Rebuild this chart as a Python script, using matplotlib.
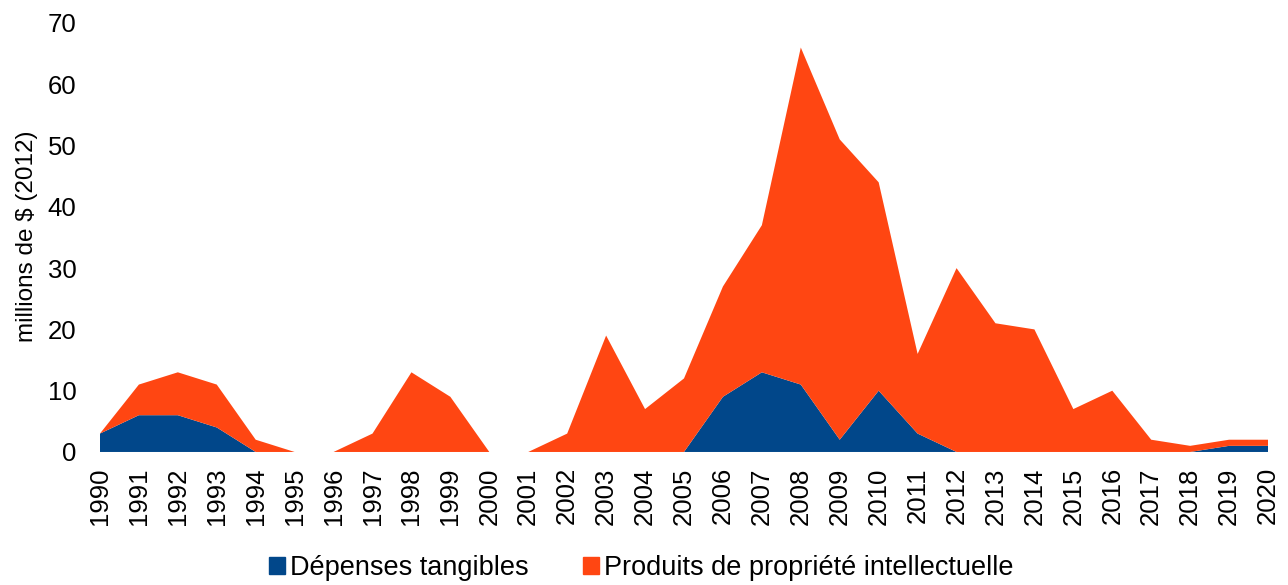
import matplotlib.pyplot as plt
from matplotlib.patches import Patch

plt.rcParams['font.family'] = ['Liberation Sans', 'DejaVu Sans']

years = list(range(1990, 2021))
tangibles = [3, 6, 6, 4, 0, 0, 0, 0, 0, 0, 0,
             0, 0, 0, 0, 0, 9, 13, 11, 2, 10,
             3, 0, 0, 0, 0, 0, 0, 0, 1, 1]
propriete = [0, 5, 7, 7, 2, 0, 0, 3, 13, 9, 0,
             0, 3, 19, 7, 12, 18, 24, 55, 49, 34,
             13, 30, 21, 20, 7, 10, 2, 1, 1, 1]
series_labels = ['Dépenses tangibles', 'Produits de propriété intellectuelle']
colors = ['#01478A', '#FF4612']

fig = plt.figure(figsize=(12.88, 5.85), dpi=100)
ax = fig.add_axes([0.0776, 0.2274, 0.9069, 0.7333])

ax.stackplot(years, tangibles, propriete, colors=colors, linewidth=0)

ax.set_xlim(1990, 2020)
ax.set_ylim(0, 70)
ax.set_yticks(range(0, 71, 10))
ax.set_xticks(years)
ax.set_xticklabels([str(y) for y in years], rotation=90, fontsize=18.5)
ax.tick_params(axis='y', labelsize=18.5, length=0, pad=17)
ax.tick_params(axis='x', length=0, pad=11)
for s in ax.spines.values():
    s.set_visible(False)

fig.text(27 / 1288, 1 - 236 / 585, 'millions de $ (2012)', rotation=90,
         ha='center', va='center', fontsize=17.5)

handles = [Patch(color=c, label=l) for c, l in zip(colors, series_labels)]
fig.legend(handles=handles, loc='center', bbox_to_anchor=(0.498, 0.029),
           ncol=2, frameon=False, fontsize=19.5, handlelength=0.57,
           handleheight=0.57, handletextpad=0.2, columnspacing=2.0,
           borderpad=0, borderaxespad=0)

fig.savefig('out.png', dpi=100)
